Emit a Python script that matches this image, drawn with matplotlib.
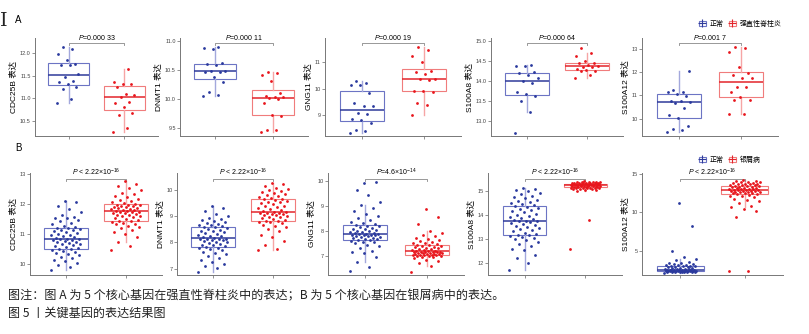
import numpy as np
import matplotlib
matplotlib.use('Agg')
import matplotlib.pyplot as plt
from matplotlib.patches import Patch
from matplotlib.lines import Line2D
from matplotlib.legend_handler import HandlerTuple
from matplotlib.ticker import FormatStrFormatter

plt.rcParams['font.family'] = ['Liberation Sans', 'Noto Sans CJK SC', 'DejaVu Sans']
plt.rcParams['mathtext.fontset'] = 'custom'
plt.rcParams['mathtext.rm'] = 'Liberation Sans'
plt.rcParams['mathtext.it'] = 'Liberation Sans:italic'

# ---- A: 强直性脊柱炎 ----
a_cdc25b_n = [10.89, 10.98, 11.2, 11.25, 11.31, 11.35, 11.39, 11.48, 11.53, 11.73, 11.73, 11.76, 11.84, 11.98, 12.09, 12.13]
a_cdc25b_d = [10.26, 10.35, 10.64, 10.68, 10.80, 10.89, 10.92, 11.02, 11.08, 11.09, 11.24, 11.32, 11.32, 11.35, 11.65]
a_dnmt1_n = [10.05, 10.08, 10.13, 10.30, 10.38, 10.46, 10.47, 10.48, 10.49, 10.58, 10.60, 10.62, 10.86, 10.88, 10.89]
a_dnmt1_d = [9.44, 9.47, 9.48, 9.72, 9.73, 9.93, 10.0, 10.02, 10.03, 10.03, 10.06, 10.10, 10.31, 10.41, 10.45, 10.46]
a_gng11_n = [8.29, 8.37, 8.41, 8.68, 8.80, 8.83, 9.02, 9.05, 9.32, 9.32, 9.45, 9.85, 10.13, 10.15, 10.21, 10.28]
a_gng11_d = [8.99, 9.39, 9.45, 9.87, 9.91, 9.91, 10.31, 10.36, 10.37, 10.56, 10.62, 10.67, 11.01, 11.23, 11.47, 11.6]
a_s100a8_n = [12.69, 13.22, 13.50, 13.62, 13.66, 13.71, 13.95, 13.99, 14.08, 14.16, 14.20, 14.22, 14.38, 14.38, 14.40]
a_s100a8_d = [14.06, 14.16, 14.24, 14.25, 14.27, 14.31, 14.36, 14.36, 14.38, 14.40, 14.44, 14.44, 14.51, 14.62, 14.70, 14.84]
a_s100a12_n = [9.42, 9.53, 9.56, 9.70, 10.02, 10.15, 10.47, 10.66, 10.73, 10.77, 10.77, 10.99, 11.05, 11.12, 11.16, 11.21, 12.05]
a_s100a12_d = [10.19, 10.19, 10.81, 10.81, 10.94, 11.12, 11.36, 11.36, 11.76, 11.76, 11.87, 11.94, 12.22, 12.86, 13.04, 13.08]

# ---- B: 银屑病 ----
b_cdc25b_n = [9.82, 9.9, 9.98, 10.05, 10.1, 10.15, 10.2, 10.25, 10.3, 10.34, 10.38, 10.42, 10.45, 10.48, 10.5,
              10.52, 10.55, 10.58, 10.61, 10.63, 10.66, 10.68, 10.7, 10.73, 10.75, 10.77, 10.79, 10.81, 10.83, 10.84,
              10.85, 10.88, 10.9, 10.93, 10.96, 10.98, 11.01, 11.04, 11.07, 11.1, 11.12, 11.15, 11.17, 11.19, 11.2,
              11.23, 11.28, 11.33, 11.38, 11.42, 11.47, 11.52, 11.55, 11.58, 11.62, 11.75, 11.85, 11.92, 12.06, 12.1]
b_cdc25b_d = [10.46, 10.6, 10.75, 10.9, 11.0, 11.08, 11.15, 11.2, 11.25, 11.28, 11.32, 11.35, 11.38, 11.4, 11.42,
              11.44, 11.47, 11.5, 11.53, 11.56, 11.59, 11.61, 11.63, 11.65, 11.67, 11.69, 11.71, 11.73, 11.74, 11.75,
              11.77, 11.78, 11.8, 11.81, 11.83, 11.85, 11.86, 11.88, 11.9, 11.91, 11.93, 11.94, 11.96, 11.97, 11.98,
              12.0, 12.03, 12.06, 12.1, 12.14, 12.18, 12.22, 12.27, 12.32, 12.38, 12.45, 12.52, 12.6, 12.68, 12.76]
b_dnmt1_n = [6.88, 7.05, 7.12, 7.2, 7.28, 7.35, 7.42, 7.5, 7.55, 7.6, 7.65, 7.7, 7.74, 7.78, 7.81,
             7.83, 7.86, 7.89, 7.92, 7.95, 7.98, 8.0, 8.03, 8.05, 8.08, 8.1, 8.12, 8.13, 8.14, 8.15,
             8.17, 8.2, 8.23, 8.26, 8.29, 8.32, 8.35, 8.38, 8.42, 8.45, 8.48, 8.52, 8.55, 8.58, 8.6,
             8.62, 8.65, 8.68, 8.7, 8.73, 8.76, 8.8, 8.84, 8.88, 8.93, 9.0, 9.08, 9.18, 9.3, 9.38]
b_dnmt1_d = [7.72, 7.76, 7.9, 8.05, 8.2, 8.3, 8.42, 8.5, 8.58, 8.63, 8.68, 8.72, 8.76, 8.79, 8.81,
             8.83, 8.86, 8.89, 8.92, 8.95, 8.98, 9.0, 9.03, 9.05, 9.07, 9.09, 9.1, 9.12, 9.13, 9.14,
             9.16, 9.19, 9.22, 9.26, 9.3, 9.33, 9.37, 9.4, 9.44, 9.48, 9.52, 9.55, 9.58, 9.61, 9.64,
             9.66, 9.69, 9.72, 9.75, 9.78, 9.82, 9.86, 9.9, 9.94, 9.98, 10.02, 10.08, 10.14, 10.2, 10.25]
b_gng11_n = [6.4, 6.55, 6.75, 6.95, 7.1, 7.15, 7.2, 7.3, 7.38, 7.45, 7.5, 7.54, 7.57, 7.6, 7.62,
             7.64, 7.66, 7.68, 7.7, 7.72, 7.74, 7.76, 7.78, 7.8, 7.82, 7.83, 7.84, 7.85, 7.86, 7.87,
             7.88, 7.9, 7.92, 7.94, 7.96, 7.98, 8.0, 8.03, 8.06, 8.09, 8.12, 8.15, 8.18, 8.21, 8.24,
             8.27, 8.32, 8.38, 8.45, 8.52, 8.6, 8.7, 8.8, 8.92, 9.05, 9.18, 9.45, 9.65, 9.95, 9.93]
b_gng11_d = [6.35, 6.6, 6.7, 6.78, 6.85, 6.9, 6.94, 6.97, 6.99, 7.0, 7.01, 7.02, 7.03, 7.03, 7.04,
             7.05, 7.06, 7.07, 7.08, 7.09, 7.1, 7.11, 7.12, 7.13, 7.14, 7.15, 7.15, 7.16, 7.16, 7.17,
             7.18, 7.19, 7.21, 7.23, 7.25, 7.27, 7.29, 7.31, 7.33, 7.35, 7.37, 7.39, 7.41, 7.43, 7.45,
             7.47, 7.5, 7.53, 7.56, 7.6, 7.64, 7.68, 7.72, 7.78, 7.85, 7.92, 8.0, 8.28, 8.55, 8.87]
b_s100a8_n = [11.72, 12.0, 12.2, 12.35, 12.55, 12.6, 12.7, 12.8, 12.88, 12.95, 13.0, 13.05, 13.1, 13.13, 13.16,
              13.19, 13.23, 13.28, 13.33, 13.38, 13.43, 13.48, 13.53, 13.57, 13.61, 13.65, 13.69, 13.72, 13.74, 13.76,
              13.78, 13.81, 13.85, 13.89, 13.93, 13.98, 14.02, 14.07, 14.12, 14.17, 14.22, 14.27, 14.31, 14.35, 14.38,
              14.41, 14.45, 14.5, 14.55, 14.6, 14.65, 14.7, 14.75, 14.8, 14.87, 14.93, 15.0, 15.05, 15.1, 15.14]
b_s100a8_d = [12.58, 13.8, 15.0, 15.04, 15.07, 15.09, 15.1, 15.11, 15.12, 15.12, 15.13, 15.13, 15.14, 15.14, 15.15,
              15.16, 15.17, 15.18, 15.19, 15.2, 15.2, 15.21, 15.21, 15.22, 15.22, 15.23, 15.23, 15.24, 15.24, 15.25,
              15.25, 15.26, 15.26, 15.27, 15.27, 15.28, 15.28, 15.29, 15.29, 15.3, 15.3, 15.31, 15.31, 15.32, 15.32,
              15.33, 15.33, 15.34, 15.34, 15.35, 15.35, 15.36, 15.36, 15.37, 15.37, 15.38, 15.38, 15.39, 15.4, 15.42]
b_s100a12_n = [2.2, 2.22, 2.24, 2.26, 2.28, 2.29, 2.3, 2.31, 2.32, 2.33, 2.34, 2.35, 2.36, 2.37, 2.38,
               2.4, 2.41, 2.42, 2.43, 2.44, 2.45, 2.46, 2.46, 2.47, 2.48, 2.49, 2.5, 2.5, 2.51, 2.52,
               2.53, 2.56, 2.6, 2.64, 2.68, 2.72, 2.76, 2.8, 2.84, 2.88, 2.92, 2.96, 3.0, 3.04, 3.07,
               3.1, 3.14, 3.18, 3.22, 3.27, 3.32, 3.4, 3.5, 3.6, 3.8, 3.95, 4.23, 5.04, 8.2, 11.28]
b_s100a12_d = [2.4, 2.4, 9.44, 10.2, 10.5, 10.7, 10.9, 11.2, 11.45, 11.6, 11.8, 11.95, 12.1, 12.2, 12.32,
               12.37, 12.42, 12.47, 12.52, 12.56, 12.6, 12.64, 12.68, 12.72, 12.75, 12.78, 12.81, 12.84, 12.87, 12.89,
               12.91, 12.95, 12.99, 13.03, 13.07, 13.1, 13.14, 13.18, 13.22, 13.26, 13.3, 13.34, 13.38, 13.42, 13.48,
               13.52, 13.56, 13.6, 13.64, 13.68, 13.72, 13.76, 13.8, 13.85, 13.9, 13.95, 14.0, 14.05, 14.1, 14.2]

genes = ['CDC25B', 'DNMT1', 'GNG11', 'S100A8', 'S100A12']
p_a = ['0.000 33', '0.000 11', '0.000 19', '0.000 64', '0.001 7']
p_b = [r'$P$ < 2.22×10$^{-16}$', r'$P$ < 2.22×10$^{-16}$', r'$P$=4.6×10$^{-14}$',
       r'$P$ < 2.22×10$^{-16}$', r'$P$ < 2.22×10$^{-16}$']
yticks_a = [[10.5, 11.0, 11.5, 12.0], [9.5, 10.0, 10.5, 11.0], [9, 10, 11], [13.0, 13.5, 14.0, 14.5, 15.0], [10, 11, 12, 13]]
yticks_b = [[10, 11, 12, 13], [7, 8, 9, 10], [7, 8, 9, 10], [12, 13, 14, 15], [5, 10, 15]]
ylim_a = [(10.17, 12.33), (9.37, 11.05), (8.19, 11.93), (12.61, 15.08), (9.26, 13.45)]
ylim_b = [(9.64, 13.03), (6.77, 10.63), (6.23, 10.33), (11.51, 15.76), (1.88, 15.13)]
fmt_a = ['%.1f', '%.1f', '%d', '%.1f', '%d']

data_a = [(a_cdc25b_n, a_cdc25b_d), (a_dnmt1_n, a_dnmt1_d), (a_gng11_n, a_gng11_d),
          (a_s100a8_n, a_s100a8_d), (a_s100a12_n, a_s100a12_d)]
data_b = [(b_cdc25b_n, b_cdc25b_d), (b_dnmt1_n, b_dnmt1_d), (b_gng11_n, b_gng11_d),
          (b_s100a8_n, b_s100a8_d), (b_s100a12_n, b_s100a12_d)]

BLUE = dict(box='#6c74c4', med='#2f3b9a', wh='#a3a8dc', pt='#2a399d')
RED = dict(box='#f07c7c', med='#e3242b', wh='#f6a5a5', pt='#e8151c')

W, H = 809, 334
fig = plt.figure(figsize=(W / 100, H / 100), dpi=100)

# pixel extents of each panel (left, right)
cols_a = [(35, 158), (180, 308), (325, 461), (491, 623), (642, 778)]
cols_b = [(30, 162), (177, 309), (328, 464), (488, 622), (642, 783)]
row_a = (38, 136)
row_b = (173, 275)


def add_ax(x0, x1, y0, y1):
    return fig.add_axes([x0 / W, 1 - y1 / H, (x1 - x0) / W, (y1 - y0) / H])


def draw_panel(ax, groups, gene, ptxt, ylim, yticks, fmt, yb, jw):
    for i, (vals, c) in enumerate(zip(groups, [BLUE, RED])):
        pos = i + 1
        ax.boxplot([vals], positions=[pos], widths=0.72, showfliers=False, showcaps=False,
                   patch_artist=True,
                   boxprops=dict(facecolor='none', edgecolor=c['box'], linewidth=0.8),
                   medianprops=dict(color=c['med'], linewidth=1.1),
                   whiskerprops=dict(color=c['wh'], linewidth=1.0))
        off = ((np.arange(len(vals)) * 0.618034) % 1 - 0.5) * jw
        ax.scatter(pos + off, vals, s=4, color=c['pt'], linewidths=0, zorder=3)
    ax.set_xlim(0.4, 2.6)
    ax.set_ylim(*ylim)
    ax.set_xticks([1, 2])
    ax.set_xticklabels(['', ''])
    ax.set_yticks(yticks)
    ax.yaxis.set_major_formatter(FormatStrFormatter(fmt))
    ax.tick_params(axis='both', length=2, width=0.5, color='#666666', labelsize=4, labelcolor='#444444', pad=1)
    for s in ['top', 'right']:
        ax.spines[s].set_visible(False)
    for s in ['left', 'bottom']:
        ax.spines[s].set_color('#777777')
        ax.spines[s].set_linewidth(0.7)
    ax.set_ylabel(gene + ' 表达', fontsize=6, labelpad=2)
    tr = ax.get_xaxis_transform()
    ax.plot([1, 1, 2, 2], [yb - 0.02, yb, yb, yb - 0.02], transform=tr, color='#888888',
            linewidth=0.6, clip_on=False)
    ax.text(1.5, yb + 0.012, ptxt, transform=tr, ha='center', va='bottom', fontsize=5, clip_on=False)


for k in range(5):
    ax = add_ax(cols_a[k][0], cols_a[k][1], *row_a)
    draw_panel(ax, data_a[k], genes[k], r'$P$=' + p_a[k], ylim_a[k], yticks_a[k], fmt_a[k], 0.945, 0.4)
    ax = add_ax(cols_b[k][0], cols_b[k][1], *row_b)
    draw_panel(ax, data_b[k], genes[k], p_b[k], ylim_b[k], yticks_b[k], '%d', 0.94, 0.5)


def legend_handle(c):
    return (Patch(facecolor='white', edgecolor=c['box'], linewidth=0.8),
            Line2D([], [], color=c['med'], marker='+', linestyle='none', markersize=6, markeredgewidth=0.8))


for y, lab in [(24, '强直性脊柱炎'), (160, '银屑病')]:
    fig.legend([legend_handle(BLUE), legend_handle(RED)], ['正常', lab],
               handler_map={tuple: HandlerTuple(ndivide=1, pad=0)},
               loc='center left', bbox_to_anchor=(699 / W, 1 - y / H), ncol=2, frameon=False,
               handlelength=1.0, handleheight=0.9, handletextpad=0.5,
               columnspacing=0.8, borderpad=0, borderaxespad=0,
               prop={'family': ['Noto Sans CJK SC'], 'size': 5})

fig.text(0.3 / W, 1 - 21 / H, 'I', fontsize=14, family='DejaVu Serif', va='center', color='#222222')
fig.text(15 / W, 1 - 20 / H, 'A', fontsize=7, va='center')
fig.text(15 / W, 1 - 148 / H, 'B', fontsize=7, va='center')

cap = ['Noto Sans CJK SC', 'DejaVu Sans']
fig.text(8 / W, 1 - 296 / H, '图注：图 A 为 5 个核心基因在强直性脊柱炎中的表达；B 为 5 个核心基因在银屑病中的表达。',
         fontsize=8.7, family=cap, va='center', color='#222222')
fig.text(8 / W, 1 - 313 / H, '图 5 丨关键基因的表达结果图', fontsize=8.7, family=cap, va='center', color='#222222')

fig.savefig('out.png', dpi=100)
